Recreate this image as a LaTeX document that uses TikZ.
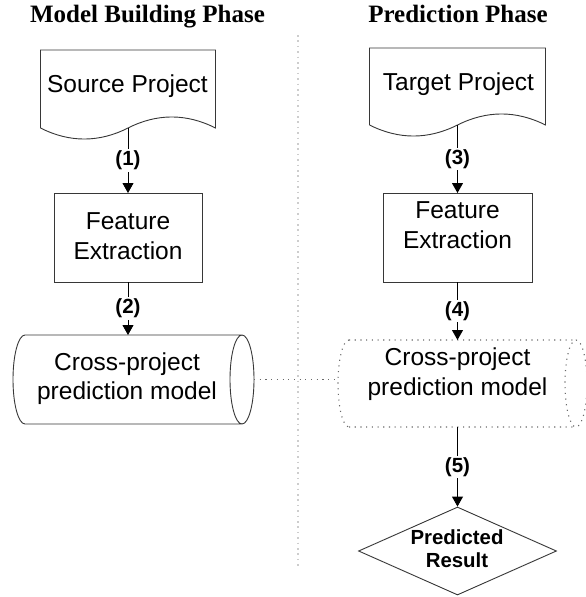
\documentclass[tikz,border=0pt]{standalone}
\usepackage{fontspec}
\setmainfont{Liberation Sans}
\newfontfamily\headfont{Liberation Serif}
\usetikzlibrary{arrows.meta,shapes.geometric,calc}
\definecolor{edge}{RGB}{55,55,55}
\definecolor{dotgray}{RGB}{105,105,105}
\definecolor{divgray}{RGB}{205,205,205}
\tikzset{
  outline/.style={draw=edge, line width=0.9pt},
  dotline/.style={draw=dotgray, line width=1.1pt, dash pattern=on 1.1pt off 4.6pt},
  divider/.style={draw=divgray, line width=1.6pt, dash pattern=on 1.6pt off 3.8pt},
  holder/.style={inner sep=0pt, outer sep=0pt},
  boxtext/.style={font=\fontsize{24.5}{29.5}\selectfont, align=center, inner sep=0pt},
  steplabel/.style={font=\fontsize{20.5}{24}\selectfont\bfseries, fill=white, inner sep=1.5pt},
  resulttext/.style={font=\fontsize{20.4}{23}\selectfont\bfseries, align=center, inner sep=0pt},
  flow/.style={draw=black, line width=0.9pt, -{Triangle[length=10pt,width=11pt]}},
  phase/.style={font=\headfont\bfseries\fontsize{25}{30}\selectfont, anchor=base, inner sep=0pt},
}
\begin{document}
\begin{tikzpicture}[x=1pt, y=-1pt]
\useasboundingbox (0,0) rectangle (586,597);
\fill[white] (0,0) rectangle (586,597);

% phase headings and the divider between them
\node[phase] (ttl1) at (147.5,22) {Model Building Phase};
\node[phase] (ttl2) at (458,22) {Prediction Phase};
\draw[divider] (298,35) -- (298,568);

% ---------- model building column ----------
\node[holder, minimum width=175pt, minimum height=78pt] (src) at (128,89) {};
\draw[outline] (src.south west) -- (src.north west) -- (src.north east) -- (src.south east)
  .. controls +(-29,-14.7) and +(29,-14.7) .. (src.south)
  .. controls +(-29,14.7) and +(29,14.7) .. (src.south west);
\node[boxtext, anchor=base] (srct) at (127.5,92) {Source Project};

\node[outline, holder, minimum width=148pt, minimum height=89pt] (fe1) at (128,237.5) {};
\node[boxtext] (fe1t) at (128,236) {Feature\\Extraction};

\node[holder, minimum width=217pt, minimum height=89pt] (cyl1) at (133.5,379.5) {};
\draw[outline] (cyl1.north west) -- (cyl1.north east)
  (cyl1.south west) -- (cyl1.south east)
  (cyl1.north west) arc[start angle=90, end angle=270, x radius=12pt, y radius=44.5pt]
  (cyl1.east) ellipse[x radius=12pt, y radius=44.5pt];
\node[boxtext] (cyl1t) at (127,378.5) {Cross-project\\prediction model};

\draw[flow] (src.south) -- node[steplabel] {(1)} (fe1.north);
\draw[flow] (fe1.south) -- node[steplabel] {(2)} (fe1.south |- cyl1.north);

% ---------- prediction column ----------
\node[holder, minimum width=176pt, minimum height=77pt] (tgt) at (457.5,86.5) {};
\draw[outline] (tgt.south west) -- (tgt.north west) -- (tgt.north east) -- (tgt.south east)
  .. controls +(-29.3,-14.7) and +(29.3,-14.7) .. (tgt.south)
  .. controls +(-29.3,14.7) and +(29.3,14.7) .. (tgt.south west);
\node[boxtext, anchor=base] (tgtt) at (458.5,90) {Target Project};

\node[outline, holder, minimum width=149pt, minimum height=89pt] (fe2) at (457.5,237.5) {};
\node[boxtext] (fe2t) at (457.5,225) {Feature\\Extraction};

\node[holder, minimum width=227pt, minimum height=87pt] (cyl2) at (462.5,383.5) {};
\draw[dotline] (cyl2.north west) -- (cyl2.north east)
  (cyl2.south west) -- (cyl2.south east)
  (cyl2.north west) arc[start angle=90, end angle=270, x radius=11pt, y radius=43.5pt]
  (cyl2.east) ellipse[x radius=11pt, y radius=43.5pt];
\node[boxtext] (cyl2t) at (457.5,374) {Cross-project\\prediction model};

\node[diamond, outline, inner sep=0pt, aspect=2.25, minimum width=198pt, minimum height=88pt] (pr) at (457.5,551) {};
\node[resulttext] (prt) at (457,549) {Predicted\\Result};

\draw[flow] (tgt.south) -- node[steplabel] {(3)} (fe2.north);
\draw[flow] (fe2.south) -- node[steplabel] {(4)} (fe2.south |- cyl2.north);
\draw[flow] (cyl2.south -| pr.north) -- node[steplabel] {(5)} (pr.north);

% the trained model is reused on the prediction side
\coordinate (c1r) at ($(cyl1.east)+(12,0)$);
\coordinate (c2l) at ($(cyl2.west)+(-11,0)$);
\draw[dotline] (c1r) -- (c2l |- c1r);
\end{tikzpicture}
\end{document}
